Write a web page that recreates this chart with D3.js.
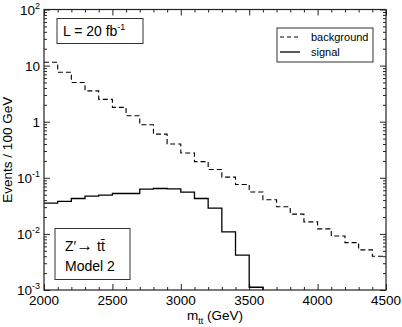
<!DOCTYPE html>
<html>
<head>
<meta charset="utf-8">
<script src="https://cdn.jsdelivr.net/npm/d3@7"></script>
<style>
  body { margin: 0; background: #fff; }
  text { font-family: "Liberation Sans", Arial, sans-serif; fill: #000; }
</style>
</head>
<body>
<div id="chart"></div>
<script>
// bin lower edges (GeV), 100 GeV wide
var binEdges = [2000, 2100, 2200, 2300, 2400, 2500, 2600, 2700, 2800, 2900,
                3000, 3100, 3200, 3300, 3400, 3500, 3600, 3700, 3800, 3900,
                4000, 4100, 4200, 4300, 4400];
var background = [11.5, 7.6, 5.0, 3.55, 2.5, 1.8, 1.28, 0.88, 0.60, 0.40,
                  0.277, 0.194, 0.141, 0.103, 0.076, 0.056, 0.0405, 0.0304, 0.0225, 0.0164,
                  0.0123, 0.0092, 0.0070, 0.0052, 0.0040];
var signal = [0.0354, 0.0379, 0.0428, 0.0472, 0.049, 0.0525, 0.0525, 0.063, 0.0645, 0.0637,
              0.0555, 0.0428, 0.0288, 0.0109, 0.0042, 0.00112];
var xTickLabels = [2000, 2500, 3000, 3500, 4000, 4500];
var yDecades = [-3, -2, -1, 0, 1, 2];

var W = 402, H = 327;
var pLeft = 44, pRight = 386, pTop = 9.5, pBottom = 290;

var svg = d3.select("#chart").append("svg")
  .attr("width", W).attr("height", H);

var x = d3.scaleLinear().domain([2000, 4500]).range([pLeft, pRight]);
var y = d3.scaleLog().domain([1e-3, 1e2]).range([pBottom, pTop]);

// ticks: minor every 100, major every 500 (inward, all four sides)
var minorX = d3.range(2000, 4501, 100).filter(function(v) { return v % 500 != 0; });
var minorY = [];
yDecades.slice(0, -1).forEach(function(e) {
  for (var k = 2; k <= 9; k++) minorY.push(k * Math.pow(10, e));
});
var majorY = yDecades.map(function(e) { return Math.pow(10, e); });

function styleAxis(g) {
  g.select(".domain").remove();
  g.selectAll("line").attr("stroke", "#222");
  g.selectAll("text").remove();
}
svg.append("g").attr("transform", "translate(0," + pBottom + ")")
  .call(d3.axisBottom(x).tickValues(minorX).tickSize(-3)).call(styleAxis);
svg.append("g").attr("transform", "translate(0," + pBottom + ")")
  .call(d3.axisBottom(x).tickValues(xTickLabels).tickSize(-6)).call(styleAxis);
svg.append("g").attr("transform", "translate(0," + pTop + ")")
  .call(d3.axisTop(x).tickValues(minorX).tickSize(-3)).call(styleAxis);
svg.append("g").attr("transform", "translate(0," + pTop + ")")
  .call(d3.axisTop(x).tickValues(xTickLabels).tickSize(-6)).call(styleAxis);
svg.append("g").attr("transform", "translate(" + pLeft + ",0)")
  .call(d3.axisLeft(y).tickValues(minorY).tickSize(-3)).call(styleAxis);
svg.append("g").attr("transform", "translate(" + pLeft + ",0)")
  .call(d3.axisLeft(y).tickValues(majorY).tickSize(-6)).call(styleAxis);
svg.append("g").attr("transform", "translate(" + pRight + ",0)")
  .call(d3.axisRight(y).tickValues(minorY).tickSize(-3)).call(styleAxis);
svg.append("g").attr("transform", "translate(" + pRight + ",0)")
  .call(d3.axisRight(y).tickValues(majorY).tickSize(-6)).call(styleAxis);

// frame
svg.append("rect")
  .attr("x", pLeft).attr("y", pTop)
  .attr("width", pRight - pLeft).attr("height", pBottom - pTop)
  .attr("fill", "none").attr("stroke", "#222").attr("stroke-width", 1.2);

// x tick labels
svg.selectAll(".xlab").data(xTickLabels).enter().append("text")
  .attr("x", function(d) { return x(d); })
  .attr("y", 305)
  .attr("text-anchor", "middle")
  .attr("font-size", 13.5)
  .text(function(d) { return d; });

// y tick labels: 10^n
yDecades.forEach(function(e) {
  var t = svg.append("text")
    .attr("x", 40).attr("y", y(Math.pow(10, e)) + 5)
    .attr("text-anchor", "end")
    .attr("font-size", 13.5);
  if (e == 0) t.text("1");
  else if (e == 1) t.text("10");
  else {
    t.append("tspan").text("10");
    t.append("tspan").attr("dy", -6).attr("font-size", 9).text(e);
  }
});

// axis titles
var xt = svg.append("text")
  .attr("x", 215).attr("y", 320)
  .attr("text-anchor", "middle")
  .attr("font-size", 13.5);
xt.append("tspan").text("m");
xt.append("tspan").attr("dy", 4).attr("font-size", 9).text("tt");
xt.append("tspan").attr("dy", -4).text(" (GeV)");

svg.append("text")
  .attr("transform", "translate(12," + (pTop + pBottom) / 2 + ") rotate(-90)")
  .attr("text-anchor", "middle")
  .attr("font-size", 13.5)
  .text("Events / 100 GeV");

// histograms as step lines
function steps(vals, closeToBottom) {
  var pts = vals.map(function(v, i) { return [binEdges[i], v]; });
  var last = binEdges[vals.length - 1] + 100;
  pts.push([last, vals[vals.length - 1]]);
  if (closeToBottom) pts.push([last, 1e-3]);
  return pts;
}
var line = d3.line()
  .curve(d3.curveStepAfter)
  .x(function(d) { return x(d[0]); })
  .y(function(d) { return y(d[1]); });

svg.append("path")
  .datum(steps(background, false))
  .attr("fill", "none")
  .attr("stroke", "#000")
  .attr("stroke-width", 1.1)
  .attr("stroke-dasharray", "5,3")
  .attr("d", line);

svg.append("path")
  .datum(steps(signal, true))
  .attr("fill", "none")
  .attr("stroke", "#000")
  .attr("stroke-width", 1.3)
  .attr("d", line);

// legend
var lg = svg.append("g");
lg.append("rect").attr("x", 277).attr("y", 28).attr("width", 96).attr("height", 34)
  .attr("fill", "#fff").attr("stroke", "#333");
lg.append("line").attr("x1", 280).attr("x2", 300).attr("y1", 37).attr("y2", 37)
  .attr("stroke", "#000").attr("stroke-dasharray", "4,3");
lg.append("text").attr("x", 311).attr("y", 41).attr("font-size", 11).text("background");
lg.append("line").attr("x1", 280).attr("x2", 300).attr("y1", 52).attr("y2", 52)
  .attr("stroke", "#000").attr("stroke-width", 1.3);
lg.append("text").attr("x", 311).attr("y", 56).attr("font-size", 11).text("signal");

// luminosity box
svg.append("rect").attr("x", 57).attr("y", 18.5).attr("width", 86).attr("height", 25)
  .attr("fill", "#fff").attr("stroke", "#333");
var lt = svg.append("text").attr("x", 63).attr("y", 36).attr("font-size", 14);
lt.append("tspan").text("L = 20 fb");
lt.append("tspan").attr("dy", -6).attr("font-size", 9).text("-1");

// model box
svg.append("rect").attr("x", 55).attr("y", 228.5).attr("width", 75).attr("height", 51)
  .attr("fill", "#fff").attr("stroke", "#333");
var zt = svg.append("text").attr("x", 65).attr("y", 251).attr("font-size", 14);
zt.append("tspan").text("Z\u2032");
zt.append("tspan").attr("font-size", 17).text("\u2192");
zt.append("tspan").text("  t\u0074\u0304");
svg.append("text").attr("x", 65).attr("y", 271).attr("font-size", 14).text("Model 2");
</script>
</body>
</html>
